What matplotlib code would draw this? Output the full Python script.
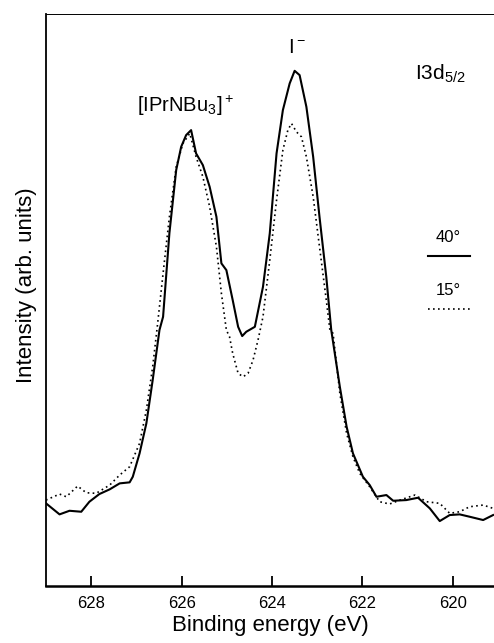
import numpy as np
import matplotlib.pyplot as plt

plt.rcParams['font.family'] = ['Liberation Sans', 'DejaVu Sans']
plt.rcParams['mathtext.default'] = 'regular'

# binding energy (eV) and intensity (arb. units), take-off angle 40 deg
e_40 = [629.00, 628.70, 628.48, 628.22, 628.04, 627.82, 627.59, 627.37, 627.15, 627.08,
        626.93, 626.78, 626.64, 626.49, 626.41, 626.27, 626.12, 626.01, 625.90, 625.79,
        625.68, 625.53, 625.38, 625.23, 625.12, 625.01, 624.87, 624.75, 624.66, 624.57,
        624.38, 624.35, 624.20, 624.05, 623.90, 623.76, 623.61, 623.50, 623.39, 623.24,
        623.09, 622.95, 622.80, 622.69, 622.50, 622.35, 622.21, 621.99, 621.84, 621.69,
        621.47, 621.32, 621.03, 620.77, 620.51, 620.29, 620.07, 619.85, 619.63, 619.33,
        619.11]
i_40 = [14.46, 12.53, 13.16, 12.99, 14.74, 16.08, 16.91, 17.95, 18.13, 19.11,
        23.20, 28.44, 36.01, 44.76, 47.08, 61.71, 72.73, 76.80, 78.85, 79.72,
        75.65, 73.60, 69.81, 64.56, 56.42, 55.24, 50.00, 45.33, 43.71, 44.46,
        45.33, 46.50, 52.33, 61.66, 75.65, 83.22, 87.88, 90.09, 89.34, 83.79,
        75.05, 64.56, 54.07, 44.76, 34.84, 27.85, 23.20, 19.11, 17.66, 15.61,
        15.91, 14.91, 15.03, 15.44, 13.58, 11.36, 12.41, 12.53, 12.12, 11.54,
        12.41]

# take-off angle 15 deg
e_15 = [629.00, 628.70, 628.55, 628.30, 628.11, 627.89, 627.59, 627.37, 627.15, 626.93,
        626.78, 626.64, 626.53, 626.41, 626.27, 626.12, 625.97, 625.82, 625.68, 625.53,
        625.38, 625.23, 625.12, 625.01, 624.94, 624.87, 624.75, 624.64, 624.53, 624.42,
        624.31, 624.20, 624.05, 623.90, 623.76, 623.65, 623.57, 623.46, 623.35, 623.24,
        623.09, 622.95, 622.80, 622.72, 622.65, 622.50, 622.35, 622.21, 622.06, 621.84,
        621.62, 621.40, 621.17, 620.84, 620.58, 620.29, 620.07, 619.85, 619.63, 619.33,
        619.11]
i_15 = [15.03, 16.08, 15.61, 17.48, 16.31, 16.21, 17.66, 19.41, 20.86, 24.95,
        30.77, 38.34, 45.93, 54.67, 64.56, 73.30, 77.40, 79.14, 75.05, 71.56,
        66.31, 59.32, 51.17, 44.76, 43.58, 40.68, 37.19, 36.59, 37.19, 39.51,
        43.01, 47.08, 56.99, 67.48, 76.22, 79.72, 80.89, 79.42, 78.55, 75.05,
        68.06, 59.32, 50.00, 44.76, 44.18, 33.69, 26.70, 22.60, 19.70, 17.36,
        14.74, 14.34, 15.03, 15.91, 14.74, 14.46, 12.71, 12.99, 13.86, 14.16,
        13.58]

xticks = [628, 626, 624, 622, 620]

fig = plt.figure(figsize=(4.94, 6.43), dpi=100)
ax = fig.add_axes([0.0931, 0.0886, 0.9069, 0.8894])

ax.plot(e_40, i_40, color='black', lw=1.5)
ax.plot(e_15, i_15, color='black', lw=1.2, linestyle=(0, (1, 2)))

ax.set_xlim(629.0, 619.09)
ax.set_ylim(0, 100)
ax.set_xticks(xticks)
ax.set_xticklabels([str(t) for t in xticks], fontsize=12)
ax.set_yticks([])
ax.tick_params(axis='x', direction='in', length=7, width=1.3, pad=7)

ax.spines['right'].set_visible(False)
ax.spines['bottom'].set_linewidth(1.8)
ax.spines['left'].set_linewidth(1.3)
ax.spines['top'].set_linewidth(0.7)

ax.set_xlabel('Binding energy (eV)', fontsize=16, labelpad=3)
ax.set_ylabel('Intensity (arb. units)', fontsize=16)
ax.yaxis.set_label_coords(-0.019, 0.526)

# peak labels
ax.text(625.91, 82.9, r'[IPrNBu$_3$]$^+$', fontsize=14.5, ha='center', va='baseline')
ax.text(623.65, 93.2, r'I$^-$', fontsize=14.5, ha='left', va='baseline')
ax.text(620.84, 88.6, r'I3d$_{5/2}$', fontsize=15, ha='left', va='baseline')

# angle key
ax.text(0.898, 0.602, '40°', transform=ax.transAxes, fontsize=12, ha='center', va='baseline')
ax.plot([0.852, 0.946], [0.577, 0.577], transform=ax.transAxes, color='black', lw=1.5)
ax.text(0.898, 0.509, '15°', transform=ax.transAxes, fontsize=12, ha='center', va='baseline')
ax.plot([0.852, 0.946], [0.484, 0.484], transform=ax.transAxes, color='black', lw=1.2,
        linestyle=(0, (1, 2)))

fig.savefig('out.png', dpi=100)
